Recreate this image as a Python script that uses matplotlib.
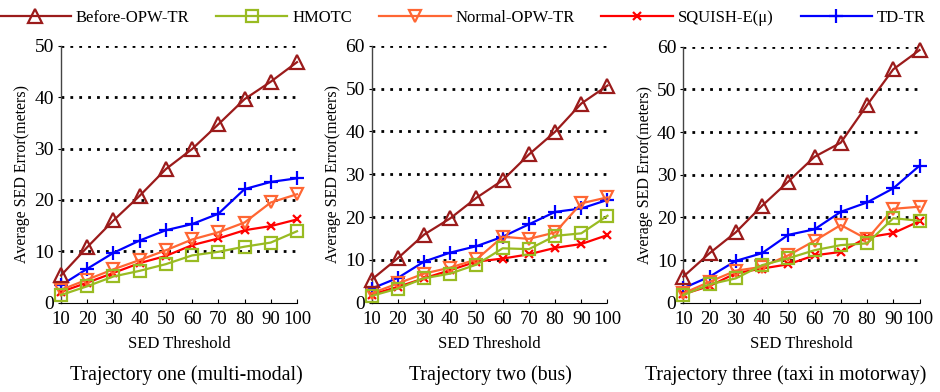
import matplotlib
matplotlib.use("Agg")
import matplotlib.pyplot as plt
from matplotlib.lines import Line2D

plt.rcParams.update({
    "font.family": "serif",
    "font.serif": ["Liberation Serif", "DejaVu Serif"],
    "font.size": 12,
})

# --- Data ---
thresholds = [10, 20, 30, 40, 50, 60, 70, 80, 90, 100]
series_names = ["Before-OPW-TR", "HMOTC", "Normal-OPW-TR", "SQUISH-E(\u03bc)", "TD-TR"]
panel_titles = ["Trajectory one (multi-modal)", "Trajectory two (bus)",
                "Trajectory three (taxi in motorway)"]
y_limits = [50, 60, 60]

# trajectory one
before_1 = [5.3, 10.8, 16.0, 20.8, 26.0, 29.9, 34.7, 39.6, 43.0, 46.8]
hmotc_1 = [1.5, 3.2, 5.1, 6.2, 7.5, 9.2, 9.9, 10.9, 11.7, 13.9]
normal_1 = [2.5, 4.5, 6.5, 8.3, 10.2, 12.3, 13.7, 15.6, 19.5, 21.1]
squish_1 = [2.1, 3.9, 5.8, 7.7, 9.1, 11.2, 12.5, 14.1, 14.9, 16.2]
tdtr_1 = [3.4, 6.6, 9.7, 12.1, 14.1, 15.3, 17.3, 22.1, 23.5, 24.2]

# trajectory two
before_2 = [5.4, 10.4, 15.9, 19.7, 24.5, 28.6, 34.6, 39.9, 46.5, 50.7]
hmotc_2 = [1.6, 3.3, 5.7, 6.8, 8.9, 12.7, 12.5, 15.6, 16.2, 20.3]
normal_2 = [2.2, 4.5, 6.8, 8.2, 10.1, 15.4, 14.9, 16.4, 23.2, 24.6]
squish_2 = [1.9, 3.7, 5.7, 7.6, 9.6, 10.3, 11.3, 12.8, 13.7, 15.8]
tdtr_2 = [3.3, 5.8, 9.6, 11.7, 13.2, 15.4, 18.3, 21.2, 22.0, 24.0]

# trajectory three
before_3 = [6.1, 11.6, 16.5, 22.7, 28.4, 34.2, 37.5, 46.3, 54.7, 59.2]
hmotc_3 = [1.8, 4.3, 5.7, 8.8, 10.4, 12.3, 13.5, 13.9, 19.8, 19.2]
normal_3 = [2.2, 4.9, 7.5, 8.4, 11.1, 14.5, 18.2, 14.9, 22.0, 22.5]
squish_3 = [2.0, 3.9, 6.9, 8.0, 9.0, 11.1, 11.9, 15.3, 16.3, 19.1]
tdtr_3 = [3.4, 6.1, 9.8, 11.6, 15.9, 17.2, 21.3, 23.5, 26.8, 32.1]

panels = [
    [before_1, hmotc_1, normal_1, squish_1, tdtr_1],
    [before_2, hmotc_2, normal_2, squish_2, tdtr_2],
    [before_3, hmotc_3, normal_3, squish_3, tdtr_3],
]

# --- Styles ---
colors = ["#9B1B1B", "#99BB22", "#FF6633", "#FF0000", "#0000FF"]
markers = ["^", "s", "v", "x", "+"]
msizes = [10, 9, 9, 6, 10]
filled = [False, False, False, True, True]

W, H = 940, 392
fig = plt.figure(figsize=(W / 100, H / 100), dpi=100)

# axes boxes in pixels: left, top, right, bottom
boxes = [(61, 45.7, 297, 302.7), (371.7, 45.7, 607.5, 302.7), (683.3, 46.7, 919.5, 302.7)]
title_x = [186, 490, 786]

for i, (l, t, r, b) in enumerate(boxes):
    ax = fig.add_axes([l / W, 1 - b / H, (r - l) / W, (b - t) / H])
    for k, ys in enumerate(panels[i]):
        ax.plot(thresholds, ys, color=colors[k], lw=1.6, marker=markers[k],
                markersize=msizes[k],
                markerfacecolor=colors[k] if filled[k] else "none",
                markeredgecolor=colors[k], markeredgewidth=1.6,
                clip_on=False, zorder=5 - k * 0.1)
    ax.set_xlim(10, 100)
    ax.set_ylim(0, y_limits[i])
    ax.set_xticks(thresholds)
    ax.set_yticks(range(0, y_limits[i] + 1, 10))
    for yv in range(10, y_limits[i] + 1, 10):
        ax.axhline(yv, color="black", lw=2, linestyle=(0, (1, 2.2)), zorder=1)
    ax.spines["top"].set_visible(False)
    ax.spines["right"].set_visible(False)
    ax.spines["left"].set_color("#444444")
    ax.spines["left"].set_linewidth(1.0)
    ax.spines["bottom"].set_linestyle((0, (1, 1)))
    ax.spines["bottom"].set_linewidth(0.8)
    ax.tick_params(axis="x", direction="in", length=3, width=0.8, labelsize=13.5, pad=6)
    ax.tick_params(axis="y", direction="out", length=2, width=0.8, labelsize=14, pad=3)
    ax.set_xlabel("SED Threshold", fontsize=12, labelpad=6)
    ax.set_ylabel("Average SED Error(meters)", fontsize=11.5, labelpad=3)
    fig.text(title_x[i] / W, 1 - 375 / H, panel_titles[i], ha="center", va="center",
             fontsize=14.3)

handles = [Line2D([0], [0], color=colors[k], lw=1.6, marker=markers[k],
                  markersize=msizes[k],
                  markerfacecolor=colors[k] if filled[k] else "none",
                  markeredgecolor=colors[k], markeredgewidth=1.6)
           for k in range(5)]
fig.legend(handles, series_names, loc="upper center", bbox_to_anchor=(0.492, 1.012),
           ncol=5, frameon=False, fontsize=12, handlelength=4.3, columnspacing=1.6,
           handletextpad=0.3)

plt.savefig("out.png", dpi=100)
